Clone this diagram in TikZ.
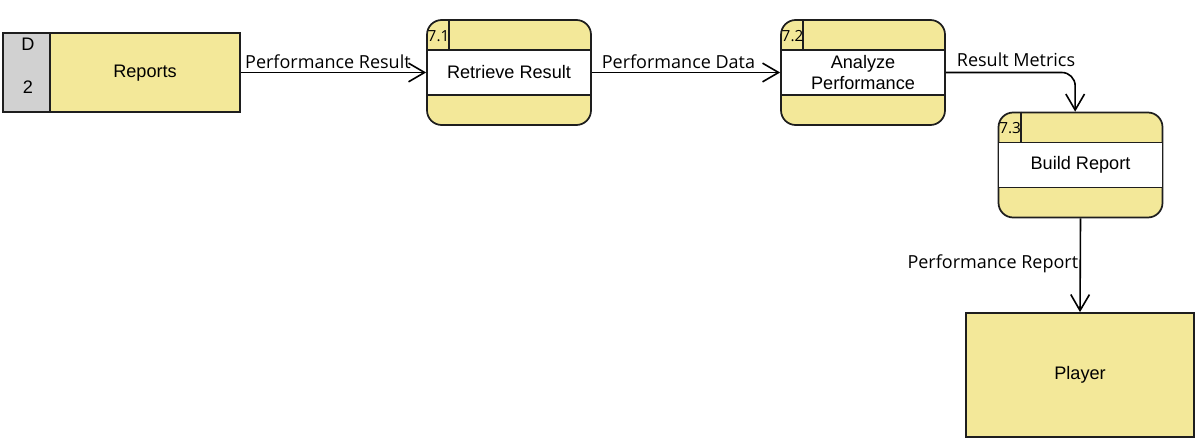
\documentclass[tikz,border=0pt]{standalone}
\usepackage{fontspec}
\setmainfont{Liberation Sans}
\newfontfamily\lblfont{Open Sans}
\usetikzlibrary{arrows.meta}
\definecolor{dfdyellow}{RGB}{243,232,153}
\definecolor{dfdgray}{RGB}{209,209,209}
\definecolor{dfdline}{RGB}{30,30,30}
\begin{document}
\begin{tikzpicture}[x=0.75pt,y=-0.75pt,
  every node/.style={font=\fontsize{13.6}{15.5}\selectfont, text=black},
  proc/.style={draw=dfdline, line width=1.3pt, fill=dfdyellow, rounded corners=11pt,
    minimum width=123pt, minimum height=78.75pt, inner sep=0pt},
  band/.style={draw=dfdline, line width=1.3pt, fill=white, minimum width=123pt,
    minimum height=33.75pt, inner sep=0pt, align=center, font=\fontsize{13.6}{15.5}\selectfont},
  numlbl/.style={font=\lblfont\fontsize{11.5}{13}\selectfont, inner sep=1pt},
  ent/.style={draw=dfdline, line width=1.3pt, fill=dfdyellow, inner sep=0pt},
  flow/.style={draw=black, line width=1.2pt, -{Straight Barb[length=12pt,width=14pt,line width=1.2pt]}},
  flowlbl/.style={font=\lblfont\fontsize{13.5}{15.5}\selectfont, inner sep=2pt},
]
\useasboundingbox (0,0) rectangle (1201,442);

% Data store D2
\node[ent, minimum width=177.75pt, minimum height=59.25pt] (ds) at (121.5,72.5) {};
\node[draw=dfdline, line width=1.3pt, fill=dfdgray, inner sep=0pt, minimum width=35.25pt,
  minimum height=59.25pt, anchor=north west] (dsid) at (ds.north west) {};
\node (dsD) at (28,44) {D};
\node (ds2) at (28,87) {2};
\node (dsname) at (145,73) {Reports};

% Process 7.1
\node[proc] (p1) at (509,72.5) {};
\node[band] (p1t) at (p1.center) {Retrieve Result};
\draw[dfdline, line width=1.3pt] ([xshift=17.25pt]p1.north west) -- ([xshift=17.25pt]p1t.north west);
\node[numlbl, anchor=west] (p1n) at ([yshift=-12.5pt]p1.north west) {7.1};

% Process 7.2
\node[proc] (p2) at (863,72.5) {};
\node[band] (p2t) at (p2.center) {Analyze\\Performance};
\draw[dfdline, line width=1.3pt] ([xshift=17.25pt]p2.north west) -- ([xshift=17.25pt]p2t.north west);
\node[numlbl, anchor=west] (p2n) at ([yshift=-12.5pt]p2.north west) {7.2};

% Process 7.3
\node[proc] (p3) at (1080.5,165) {};
\node[band] (p3t) at (p3.center) {Build Report};
\draw[dfdline, line width=1.3pt] ([xshift=17.25pt]p3.north west) -- ([xshift=17.25pt]p3t.north west);
\node[numlbl, anchor=west] (p3n) at ([yshift=-12.5pt]p3.north west) {7.3};

% External entity Player
\node[ent, minimum width=171pt, minimum height=93pt] (pl) at (1080,375) {Player};

% Flows
\draw[flow] (ds.east) -- node[flowlbl, above, pos=0.47] {Performance Result} (p1.west);
\draw[flow] (p1.east) -- node[flowlbl, above, pos=0.46] {Performance Data} (p2.west);
\draw[flow, rounded corners=10pt] (p2.east) -| ([xshift=-4pt]p3.north);
\node[flowlbl, anchor=south] (rm) at (1016,70) {Result Metrics};
\draw[flow] (p3.south) -- node[flowlbl, left, pos=0.48, xshift=1pt] {Performance Report} (pl.north);
\end{tikzpicture}
\end{document}
